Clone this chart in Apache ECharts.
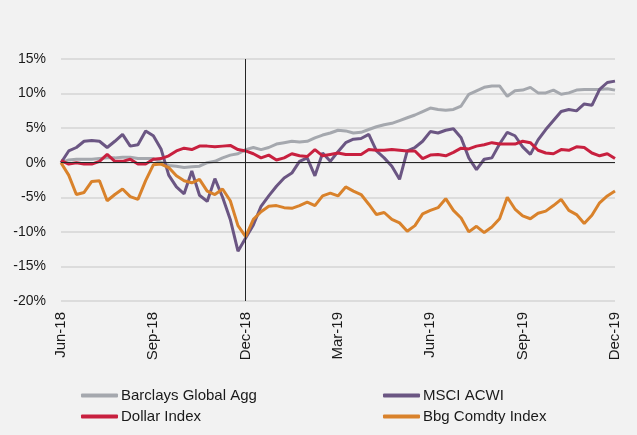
<!DOCTYPE html>
<html>
<head>
<meta charset="utf-8">
<script src="https://cdn.jsdelivr.net/npm/echarts@6/dist/echarts.min.js"></script>
<style>
  html, body { margin: 0; padding: 0; background: #f2f2f2; }
  #main { width: 637px; height: 435px; }
</style>
</head>
<body>
<div id="main"></div>
<script>
// x: months since Jun-18, one reading every quarter month
var step = 0.25;
var xTickLabels = ['Jun-18', 'Sep-18', 'Dec-18', 'Mar-19', 'Jun-19', 'Sep-19', 'Dec-19'];
var yTickLabels = ['-20%', '-15%', '-10%', '-5%', '0%', '5%', '10%', '15%'];
var seriesNames = ['Barclays Global Agg', 'MSCI ACWI', 'Dollar Index', 'Bbg Comdty Index'];

var barclays = [0, 0.4, 0.5, 0.5, 0.5, 0.6, 0.7, 0.7, 0.8, 0.8, 0.6, 0.6, 0.6,
  0.1, -0.4, -0.5, -0.7, -0.6, -0.5, 0, 0.2, 0.7, 1.1, 1.3, 1.9,
  2.2, 1.9, 2.2, 2.7, 2.9, 3.1, 3.0, 3.1, 3.6, 4.0, 4.3, 4.7,
  4.6, 4.3, 4.4, 4.8, 5.2, 5.5, 5.7, 6.1, 6.5, 6.9, 7.4, 7.9,
  7.7, 7.6, 7.7, 8.2, 9.9, 10.4, 10.9, 11.1, 11.1, 9.6, 10.4, 10.5,
  10.9, 10.1, 10.1, 10.5, 9.9, 10.1, 10.5, 10.6, 10.6, 10.6, 10.7, 10.5];

var msci = [0, 1.7, 2.2, 3.1, 3.2, 3.1, 2.2, 3.1, 4.1, 2.4, 2.6, 4.6, 3.9,
  2.0, -1.8, -3.5, -4.5, -1.2, -4.7, -5.6, -2.3, -5.0, -8.2, -12.8, -10.9,
  -9.0, -6.3, -4.8, -3.4, -2.2, -1.5, 0.2, 0.7, -1.9, 1.4, 0.2, 1.6,
  2.9, 3.4, 3.5, 4.1, 1.7, 0.7, -0.5, -2.4, 1.7, 2.2, 3.1, 4.5,
  4.3, 4.7, 4.9, 3.6, 0.7, -1.0, 0.5, 0.7, 2.7, 4.4, 3.9, 2.3,
  1.2, 3.3, 4.8, 6.1, 7.4, 7.7, 7.5, 8.5, 8.3, 10.6, 11.6, 11.8];

var dollar = [0.3, -0.2, 0, -0.2, -0.2, 0.2, 1.2, 0.2, 0.2, 0.5, -0.2, -0.2, 0.5,
  0.6, 1.0, 1.7, 2.1, 1.9, 2.4, 2.4, 2.3, 2.4, 2.5, 1.9, 1.7,
  1.3, 0.7, 1.1, 0.4, 0.7, 1.3, 1.0, 0.9, 1.9, 1.0, 1.2, 1.4,
  1.2, 1.2, 1.2, 1.9, 1.8, 1.8, 1.9, 1.8, 1.7, 1.7, 0.6, 1.1,
  1.2, 1.0, 1.5, 2.1, 2.0, 2.4, 2.6, 2.9, 2.7, 2.7, 2.7, 3.1,
  2.9, 1.8, 1.4, 1.3, 1.9, 1.8, 2.3, 2.2, 1.4, 1.0, 1.3, 0.6];

var bbg = [0, -1.8, -4.6, -4.3, -2.7, -2.6, -5.5, -4.6, -3.8, -4.9, -5.3, -2.6, -0.3,
  -0.2, -0.7, -1.9, -2.6, -2.9, -2.4, -4.1, -4.6, -3.8, -5.5, -9.1, -10.7,
  -8.2, -7.1, -6.3, -6.2, -6.5, -6.6, -6.2, -5.7, -6.2, -4.8, -4.4, -4.8,
  -3.5, -4.1, -4.6, -6.0, -7.5, -7.2, -8.2, -8.7, -9.9, -9.1, -7.4, -6.9,
  -6.5, -5.2, -6.9, -8.0, -10.0, -9.2, -10.1, -9.3, -8.1, -5.0, -6.7, -7.7,
  -8.1, -7.3, -7.0, -6.2, -5.3, -6.9, -7.5, -8.8, -7.6, -5.8, -4.8, -4.1];

var colors = ['#a5a8ae', '#6b5683', '#c8203f', '#d9822b'];

function pairs(arr) {
  return arr.map(function (v, i) { return [i * step, v]; });
}

var font = 'Liberation Sans, Arial, sans-serif';
var myChart = echarts.init(document.getElementById('main'));

// one legend per entry so they sit in two columns like the original
function legendAt(name, left, top) {
  return {
    left: left,
    top: top,
    data: [name],
    itemWidth: 37,
    itemHeight: 4,
    icon: 'roundRect',
    padding: 0,
    textStyle: { color: '#1a1a1a', fontSize: 15, fontFamily: font, padding: [0, 0, 0, -2] }
  };
}

myChart.setOption({
  backgroundColor: '#f2f2f2',
  animation: false,
  color: colors,
  textStyle: { fontFamily: font },
  grid: { left: 61, right: 22, top: 59, bottom: 134 },
  legend: [
    legendAt(seriesNames[0], 81, 388),
    legendAt(seriesNames[2], 81, 409),
    legendAt(seriesNames[1], 383, 388),
    legendAt(seriesNames[3], 383, 409)
  ],
  xAxis: {
    type: 'value',
    min: 0,
    max: 18,
    interval: 3,
    axisLine: { show: false },
    axisTick: { show: false },
    splitLine: { show: false },
    axisLabel: {
      rotate: 90,
      margin: 11,
      color: '#1a1a1a',
      fontSize: 15,
      fontFamily: font,
      formatter: function (v) { return xTickLabels[Math.round(v / 3)]; }
    }
  },
  yAxis: {
    type: 'value',
    min: -20,
    max: 15,
    interval: 5,
    axisLine: { show: false },
    axisTick: { show: false },
    splitLine: { lineStyle: { color: '#d4d4d4', width: 1.5 } },
    axisLabel: {
      margin: 15,
      color: '#1a1a1a',
      fontSize: 14,
      fontFamily: font,
      formatter: function (v) { return yTickLabels[Math.round((v + 20) / 5)]; }
    }
  },
  series: [
    {
      name: seriesNames[0], type: 'line', data: pairs(barclays), showSymbol: false,
      lineStyle: { width: 3 },
      markLine: {
        silent: true, symbol: 'none', label: { show: false },
        lineStyle: { color: '#262626', width: 1, type: 'solid' },
        data: [{ yAxis: 0 }, { xAxis: 6 }]
      }
    },
    { name: seriesNames[1], type: 'line', data: pairs(msci), showSymbol: false, lineStyle: { width: 3 } },
    { name: seriesNames[2], type: 'line', data: pairs(dollar), showSymbol: false, lineStyle: { width: 3 } },
    { name: seriesNames[3], type: 'line', data: pairs(bbg), showSymbol: false, lineStyle: { width: 3 } }
  ]
});
</script>
</body>
</html>
